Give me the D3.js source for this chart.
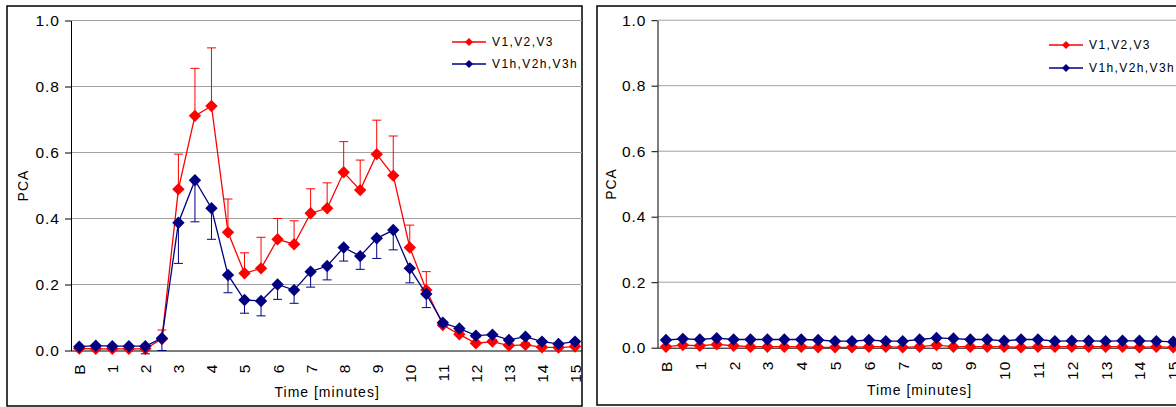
<!DOCTYPE html>
<html>
<head>
<meta charset="utf-8">
<script src="https://cdn.jsdelivr.net/npm/d3@7"></script>
<style>
  body { margin: 0; background: #fff; }
  svg text { font-family: "Liberation Sans", Arial, sans-serif; fill: #000; }
  .tick text { font-size: 15.5px; letter-spacing: 1px; }
  .axis-title { font-size: 14px; letter-spacing: 1px; }
  .legend text { font-size: 12px; letter-spacing: 1.4px; }
</style>
</head>
<body>
<div id="chart"></div>
<script>
// categories: baseline + every half minute
var categories = ["B", "0.5", "1", "1.5", "2", "2.5", "3", "3.5", "4", "4.5", "5", "5.5",
  "6", "6.5", "7", "7.5", "8", "8.5", "9", "9.5", "10", "10.5", "11", "11.5", "12",
  "12.5", "13", "13.5", "14", "14.5", "15"];
var tickLabels = ["B", "", "1", "", "2", "", "3", "", "4", "", "5", "", "6", "", "7", "",
  "8", "", "9", "", "10", "", "11", "", "12", "", "13", "", "14", "", "15"];
var yTicks = [0, 0.2, 0.4, 0.6, 0.8, 1.0];
var seriesNames = ["V1,V2,V3", "V1h,V2h,V3h"];

// left chart
var leftRed = [0.006, 0.005, 0.005, 0.005, 0.005, 0.035, 0.489, 0.711, 0.741, 0.358, 0.234,
  0.249, 0.337, 0.322, 0.416, 0.431, 0.540, 0.486, 0.595, 0.530, 0.312, 0.183, 0.077,
  0.049, 0.022, 0.027, 0.015, 0.017, 0.010, 0.009, 0.012];
var leftRedErr = [0.003, 0.003, 0.003, 0.003, 0.003, 0.027, 0.106, 0.144, 0.176, 0.101, 0.062,
  0.094, 0.063, 0.071, 0.074, 0.077, 0.093, 0.091, 0.103, 0.120, 0.068, 0.056, 0.012,
  0.010, 0.006, 0.006, 0.006, 0.006, 0.006, 0.006, 0.006];
var leftBlue = [0.0115, 0.0145, 0.013, 0.013, 0.013, 0.037, 0.387, 0.516, 0.431, 0.229, 0.153,
  0.150, 0.200, 0.183, 0.239, 0.256, 0.312, 0.286, 0.340, 0.365, 0.249, 0.171, 0.084,
  0.067, 0.045, 0.048, 0.032, 0.042, 0.027, 0.020, 0.027];
var leftBlueErr = [0.004, 0.004, 0.004, 0.004, 0.023, 0.037, 0.123, 0.126, 0.094, 0.054, 0.040,
  0.045, 0.045, 0.040, 0.047, 0.042, 0.041, 0.040, 0.061, 0.060, 0.044, 0.041, 0.010,
  0.008, 0.005, 0.005, 0.005, 0.005, 0.005, 0.005, 0.005];

// right chart
var rightRed = [0.003, 0.008, 0.006, 0.010, 0.006, 0.003, 0.003, 0.003, 0.003, 0.001, 0.001,
  0.001, 0.003, 0.003, 0.001, 0.003, 0.008, 0.003, 0.003, 0.003, 0.003, 0.001, 0.003,
  0.003, 0.003, 0.003, 0.003, 0.003, 0.001, 0.003, 0.001];
var rightBlue = [0.0235, 0.027, 0.025, 0.029, 0.025, 0.025, 0.025, 0.025, 0.025, 0.0235, 0.020,
  0.020, 0.0235, 0.020, 0.020, 0.025, 0.030, 0.028, 0.025, 0.025, 0.021, 0.025, 0.025,
  0.020, 0.021, 0.021, 0.020, 0.021, 0.021, 0.020, 0.018];

var red = "#ff0000";
var navy = "#000080";

var svg = d3.select("#chart")
  .append("svg")
  .attr("width", 1176)
  .attr("height", 407);

// diamond marker path
function diamond(r) {
  return `M0,${-r}L${r},0L0,${r}L${-r},0Z`;
}

function drawPanel(p, redVals, redErr, blueVals, blueErr) {
  var g = svg.append("g");

  // outer frame
  g.append("rect")
    .attr("x", p.box[0])
    .attr("y", p.box[1])
    .attr("width", p.box[2] - p.box[0])
    .attr("height", p.box[3] - p.box[1])
    .attr("fill", "#fff")
    .attr("stroke", "#000")
    .attr("stroke-width", 1.5);

  var x = d3.scalePoint()
    .domain(categories)
    .range([p.left, p.right])
    .padding(0.5);

  var y = d3.scaleLinear()
    .domain([0, 1])
    .range([p.bottom, p.top]);

  var gridRight = Math.min(p.right, p.box[2]);

  // gridlines
  g.append("g")
    .selectAll("line")
    .data(yTicks.slice(1))
    .enter()
    .append("line")
    .attr("x1", p.left)
    .attr("x2", gridRight)
    .attr("y1", d => y(d))
    .attr("y2", d => y(d))
    .attr("stroke", "#a0a0a0")
    .attr("stroke-width", 1);

  // y axis
  var yAxis = g.append("g")
    .attr("transform", `translate(${p.left},0)`)
    .call(d3.axisLeft(y).tickValues(yTicks).tickFormat(d3.format(".1f"))
      .tickSize(6).tickSizeOuter(0).tickPadding(5));
  yAxis.select(".domain").attr("stroke", "#000");

  // x axis
  var xAxis = g.append("g")
    .attr("transform", `translate(0,${p.bottom})`)
    .call(d3.axisBottom(x).tickSize(0).tickSizeOuter(0)
      .tickFormat((d, i) => tickLabels[i]));
  xAxis.select(".domain")
    .attr("d", `M${p.left},0.5H${gridRight}`)
    .attr("stroke", "#000");
  xAxis.selectAll("text")
    .attr("transform", "rotate(-90)")
    .attr("text-anchor", "end")
    .attr("x", -13)
    .attr("y", 0)
    .attr("dy", "0.35em");

  // axis titles
  g.append("text")
    .attr("class", "axis-title")
    .attr("x", (p.left + p.right) / 2)
    .attr("y", p.titleY)
    .attr("text-anchor", "middle")
    .text("Time [minutes]");

  g.append("text")
    .attr("class", "axis-title")
    .attr("transform", `translate(${p.yTitleX},${(p.top + p.bottom) / 2}) rotate(-90)`)
    .attr("text-anchor", "middle")
    .attr("dy", "0.35em")
    .text("PCA");

  var line = d3.line()
    .x((d, i) => x(categories[i]))
    .y(d => y(d));

  function drawSeries(vals, err, color, dir) {
    var s = g.append("g");
    if (err) {
      var eb = s.selectAll(".err")
        .data(vals)
        .enter()
        .append("g")
        .attr("stroke", color)
        .attr("stroke-width", 1);
      eb.append("line")
        .attr("x1", (d, i) => x(categories[i]))
        .attr("x2", (d, i) => x(categories[i]))
        .attr("y1", d => y(d))
        .attr("y2", (d, i) => y(d + dir * err[i]));
      eb.append("line")
        .attr("x1", (d, i) => x(categories[i]) - 4.5)
        .attr("x2", (d, i) => x(categories[i]) + 4.5)
        .attr("y1", (d, i) => y(d + dir * err[i]))
        .attr("y2", (d, i) => y(d + dir * err[i]));
    }
    s.append("path")
      .datum(vals)
      .attr("d", line)
      .attr("fill", "none")
      .attr("stroke", color)
      .attr("stroke-width", 1.3);
    s.selectAll(".mk")
      .data(vals)
      .enter()
      .append("path")
      .attr("d", diamond(6.2))
      .attr("transform", (d, i) => `translate(${x(categories[i])},${y(d)})`)
      .attr("fill", color);
  }

  drawSeries(redVals, redErr, red, 1);
  drawSeries(blueVals, blueErr, navy, -1);

  // legend
  var legend = g.append("g")
    .attr("class", "legend")
    .selectAll("g")
    .data(seriesNames)
    .enter()
    .append("g")
    .attr("transform", (d, i) => `translate(${p.legendX},${p.legendY + i * p.legendStep})`);
  legend.append("line")
    .attr("x1", 0)
    .attr("x2", 34)
    .attr("stroke", (d, i) => i === 0 ? red : navy)
    .attr("stroke-width", 1.5);
  legend.append("path")
    .attr("d", diamond(4))
    .attr("transform", "translate(17,0)")
    .attr("fill", (d, i) => i === 0 ? red : navy);
  legend.append("text")
    .attr("x", 40)
    .attr("dy", "0.36em")
    .text(d => d);
}

drawPanel({
  box: [7, 6, 582, 406],
  left: 71, right: 583.3, top: 20.5, bottom: 350.5,
  titleY: 397, yTitleX: 23,
  legendX: 452, legendY: 42, legendStep: 22
}, leftRed, leftRedErr, leftBlue, leftBlueErr);

drawPanel({
  box: [597, 6, 1200, 405],
  left: 657.5, right: 1181.7, top: 20.2, bottom: 347.7,
  titleY: 395, yTitleX: 611,
  legendX: 1049, legendY: 45, legendStep: 23
}, rightRed, null, rightBlue, null);
</script>
</body>
</html>
